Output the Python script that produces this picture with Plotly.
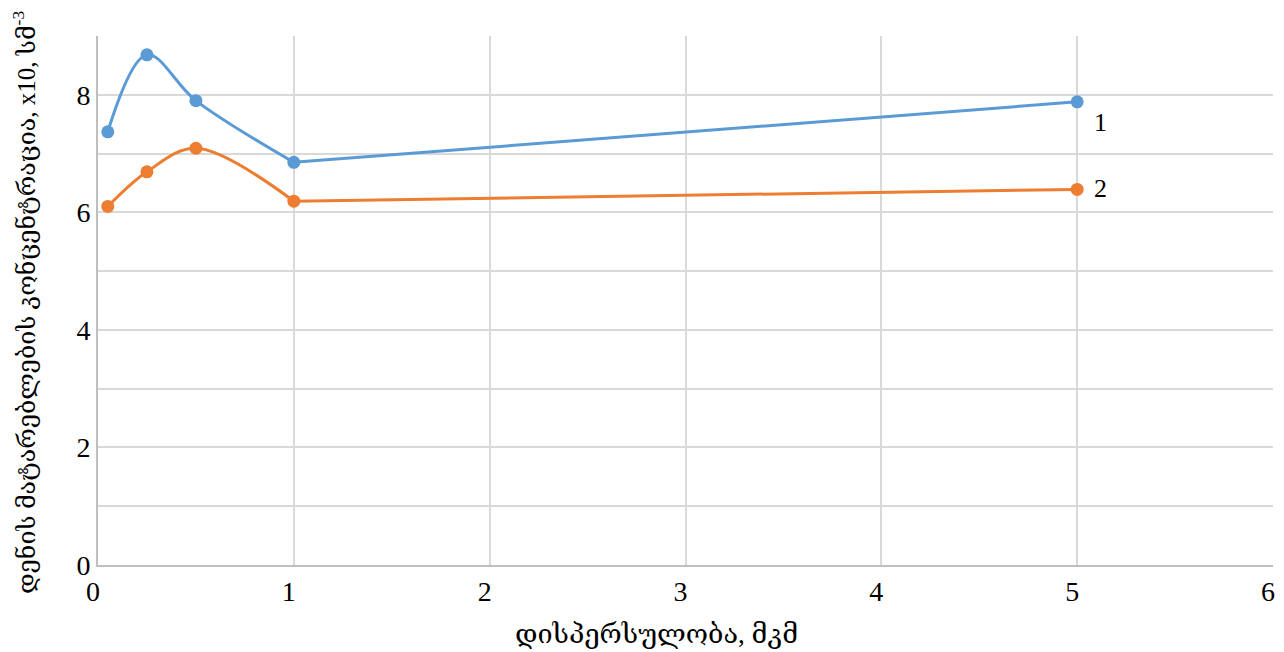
import plotly.graph_objects as go

x_vals = [0.05, 0.25, 0.5, 1.0, 5.0]
series1 = [7.37, 8.68, 7.90, 6.85, 7.88]
series2 = [6.10, 6.69, 7.09, 6.19, 6.39]
series_names = ["1", "2"]
colors = ["#5B9BD5", "#ED7D31"]
x_ticks = [0, 1, 2, 3, 4, 5, 6]
y_ticks = [0, 2, 4, 6, 8]
x_title = "დისპერსულობა, მკმ"
y_title = "დენის მატარებლების კონცენტრაცია, x10, სმ<sup>-3</sup>"

FONT = "Liberation Serif, DejaVu Serif, serif"

# plot-area geometry in page pixels (from the reference); the page body adds 8px offset
OFF = 8
L, R, T, B = 98, 1273, 36, 565
W, H = 1284, 652

fig = go.Figure()
for ys, name, c in zip([series1, series2], series_names, colors):
    # smooth part over the closely spaced points
    fig.add_trace(go.Scatter(
        x=x_vals[:4], y=ys[:4], mode="lines",
        line=dict(color=c, width=3, shape="spline", smoothing=1.0),
        showlegend=False, hoverinfo="skip",
    ))
    # long segment to the last point
    fig.add_trace(go.Scatter(
        x=x_vals[3:], y=ys[3:], mode="lines",
        line=dict(color=c, width=3),
        showlegend=False, hoverinfo="skip",
    ))
    fig.add_trace(go.Scatter(
        x=x_vals, y=ys, mode="markers", name=name,
        marker=dict(color=c, size=13),
        showlegend=False,
    ))

# series labels near last points
fig.add_annotation(x=x_vals[-1], y=series1[-1], text=series_names[0], showarrow=False,
                   xref="x", yref="y", xshift=23, yshift=-21,
                   font=dict(family=FONT, size=26, color="#000000"))
fig.add_annotation(x=x_vals[-1], y=series2[-1], text=series_names[1], showarrow=False,
                   xref="x", yref="y", xshift=23, yshift=1,
                   font=dict(family=FONT, size=26, color="#000000"))

# x-axis title
fig.add_annotation(x=(656 - L) / (R - L), y=-(634 - B) / (B - T), xref="paper", yref="paper",
                   text=x_title, showarrow=False, yanchor="middle", xanchor="center",
                   font=dict(family=FONT, size=27, color="#000000"))
# y-axis title
fig.add_annotation(x=-(L - 24) / (R - L), y=(B - 303) / (B - T), xref="paper", yref="paper",
                   text=y_title, showarrow=False, textangle=-90,
                   xanchor="center", yanchor="middle",
                   font=dict(family=FONT, size=25, color="#000000"))

fig.update_layout(
    width=W, height=H,
    margin=dict(l=L - OFF, r=W - (R - OFF), t=T - OFF, b=H - (B - OFF)),
    plot_bgcolor="white", paper_bgcolor="white",
    font=dict(family=FONT, size=22, color="#000000"),
    xaxis=dict(
        range=[0, 6], tickvals=x_ticks, ticktext=[str(t) for t in x_ticks],
        showgrid=True, gridcolor="#D9D9D9", gridwidth=1.5,
        showline=True, linecolor="#BFBFBF", linewidth=2,
        zeroline=False, ticks="", ticklen=0, automargin=False,
        ticklabelshift=-5,
        tickfont=dict(family=FONT, size=28, color="#000000"),
    ),
    yaxis=dict(
        range=[0, 9], tickvals=y_ticks, ticktext=[str(t) for t in y_ticks],
        showgrid=True, gridcolor="#D9D9D9", gridwidth=1.5,
        minor=dict(dtick=1, showgrid=True, gridcolor="#D9D9D9", gridwidth=1.5),
        showline=True, linecolor="#BFBFBF", linewidth=2,
        zeroline=False, ticks="", automargin=False,
        tickfont=dict(family=FONT, size=28, color="#000000"),
    ),
)

fig.write_html("out.html")
